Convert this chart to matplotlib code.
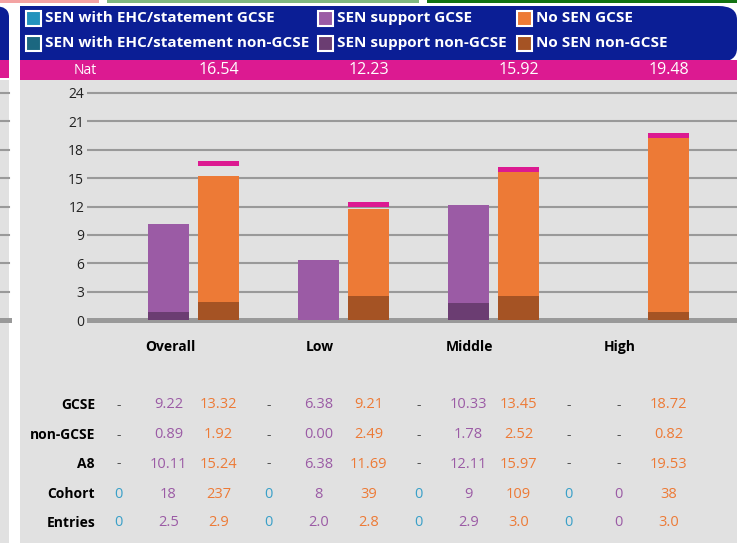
import matplotlib
matplotlib.use("Agg")
import matplotlib.pyplot as plt
from matplotlib.patches import Rectangle, FancyBboxPatch
from matplotlib.lines import Line2D
from matplotlib.transforms import blended_transform_factory
from matplotlib import font_manager

# data
categories = ['Overall', 'Low', 'Middle', 'High']
ehc_gcse = [0, 0, 0, 0]
ehc_non = [0, 0, 0, 0]
sen_gcse = [9.22, 6.38, 10.33, 0]
sen_non = [0.89, 0.00, 1.78, 0]
nosen_gcse = [13.32, 9.21, 13.45, 18.72]
nosen_non = [1.92, 2.49, 2.52, 0.82]
nat = [16.54, 12.23, 15.92, 19.48]

# table rows (None -> "-")
row_labels = ['GCSE', 'non-GCSE', 'A8', 'Cohort', 'Entries']
tab_ehc = [[None] * 4, [None] * 4, [None] * 4, ['0'] * 4, ['0'] * 4]
tab_sen = [['9.22', '6.38', '10.33', None],
           ['0.89', '0.00', '1.78', None],
           ['10.11', '6.38', '12.11', None],
           ['18', '8', '9', '0'],
           ['2.5', '2.0', '2.9', '0']]
tab_nosen = [['13.32', '9.21', '13.45', '18.72'],
             ['1.92', '2.49', '2.52', '0.82'],
             ['15.24', '11.69', '15.97', '19.53'],
             ['237', '39', '109', '38'],
             ['2.9', '2.8', '3.0', '3.0']]

legend_labels = ['SEN with EHC/statement GCSE', 'SEN support GCSE', 'No SEN GCSE',
                 'SEN with EHC/statement non-GCSE', 'SEN support non-GCSE', 'No SEN non-GCSE']

navy = '#0b1e95'
magenta = '#dc1a91'
bg = '#e1e1e1'
gridc = '#999999'
c_ehc, c_ehc2 = '#2393bd', '#1b6780'
c_sen, c_sen2 = '#9b5ba5', '#6b3d72'
c_no, c_no2 = '#ed7a36', '#a55324'
legend_colors = [c_ehc, c_sen, c_no, c_ehc2, c_sen2, c_no2]

names = {f.name for f in font_manager.fontManager.ttflist}
narrow = 'Liberation Sans Narrow' if 'Liberation Sans Narrow' in names else 'Open Sans'
plt.rcParams['font.family'] = ['Open Sans', 'DejaVu Sans']

W, H = 737, 543
fig = plt.figure(figsize=(W / 100, H / 100), dpi=100)
fig.patch.set_facecolor('white')


def rect(x0, y0, x1, y1, color, **kw):
    fig.patches.append(Rectangle((x0 / W, 1 - y1 / H), (x1 - x0) / W, (y1 - y0) / H,
                                 transform=fig.transFigure, facecolor=color,
                                 edgecolor='none', zorder=-5, **kw))


# strips at top from neighbouring tabs
rect(0, 0, 99, 2.5, '#f3a3a3')
rect(107, 0, 419, 2.5, '#80b880')
rect(427, 0, 737, 2.5, '#137313')

# neighbouring panel on the left
rect(0, 80, 9, 543, bg)
fig.patches.append(FancyBboxPatch((-30 / W, 1 - 62 / H), 39 / W, 56 / H,
                                  boxstyle='round,pad=0,rounding_size=0.02',
                                  transform=fig.transFigure, facecolor=navy,
                                  edgecolor='none', zorder=-5))
rect(0, 30, 9, 62, navy)
rect(0, 60, 9, 78, magenta)

# main panel
rect(20, 80, 737, 543, bg)
fig.patches.append(FancyBboxPatch((20 / W, 1 - 62 / H), 717 / W, 56 / H,
                                  boxstyle='round,pad=0,rounding_size=0.025',
                                  transform=fig.transFigure, facecolor=navy,
                                  edgecolor='none', zorder=-5))
rect(20, 6, 400, 62, navy)
rect(20, 60, 737, 80, magenta)

# legend
lx = [26, 318, 517]
ly = [18, 43]
for k, (lab, col) in enumerate(zip(legend_labels, legend_colors)):
    x = lx[k % 3]
    y = ly[k // 3]
    fig.patches.append(Rectangle((x / W, 1 - (y + 8) / H), 15 / W, 15 / H,
                                 transform=fig.transFigure, facecolor=col,
                                 edgecolor='white', linewidth=1.5))
    fig.text((x + 19) / W, 1 - y / H, lab, color='white', fontsize=11,
             fontweight='bold', va='center', ha='left')

# axes: y=0 at 320px, y=24 at 93px ; group centres every 150px from 168.5
ppu = (320 - 93) / 24
ax_top, ax_bot = 85, 330
ax = fig.add_axes([87 / W, 1 - ax_bot / H, 650 / W, (ax_bot - ax_top) / H])
ax.set_zorder(5)
ax.set_ylim(-(ax_bot - 320) / ppu, (320 - ax_top) / ppu)
ax.set_xlim(-(168.5 - 87) / 150, (737 - 168.5) / 150)
ax.patch.set_alpha(0)
for s in ax.spines.values():
    s.set_visible(False)
ax.set_xticks([])
yt = list(range(0, 25, 3))
ax.set_yticks(yt)
ax.tick_params(axis='y', length=0, pad=2, labelsize=10, labelcolor='#222222')
for v in yt:
    ax.axhline(v, color=gridc, lw=3.6 if v == 0 else 1.5, zorder=1)

# left strip grid lines
for v in yt:
    yy = 320 - v * ppu
    fig.lines.append(Line2D([0, 9 / W], [1 - yy / H] * 2, transform=fig.transFigure,
                            color=gridc, lw=3.6 if v == 0 else 1.5))

x = list(range(len(categories)))
bw = 41 / 150
off = 50 / 150
xe = [i - off for i in x]
xs = x
xn = [i + off for i in x]
ax.bar(xe, ehc_non, bw, color=c_ehc2, zorder=2)
ax.bar(xe, ehc_gcse, bw, bottom=ehc_non, color=c_ehc, zorder=2)
ax.bar(xs, sen_non, bw, color=c_sen2, zorder=2)
ax.bar(xs, sen_gcse, bw, bottom=sen_non, color=c_sen, zorder=2)
ax.bar(xn, nosen_non, bw, color=c_no2, zorder=2)
ax.bar(xn, nosen_gcse, bw, bottom=nosen_non, color=c_no, zorder=2)
mh = 0.55
ax.bar(xn, [mh] * 4, bw, bottom=[n - mh / 2 for n in nat], color=magenta, zorder=3)

trans = blended_transform_factory(ax.transData, fig.transFigure)

# Nat band
fig.text(85 / W, 1 - 70 / H, 'Nat', color='white', fontsize=10, ha='center', va='center')
for i, n in enumerate(nat):
    ax.text(xn[i], 1 - 70 / H, f'{n:.2f}', transform=trans, color='white',
            fontsize=11.5, ha='center', va='center', clip_on=False)

# category labels
for i, c in enumerate(categories):
    ax.text(i + 0.01, 1 - 347 / H, c, transform=trans, fontsize=10,
            fontweight='bold', ha='center', va='center', clip_on=False)

# table
row_y = [405, 435, 464, 494, 523]
for r, lab in enumerate(row_labels):
    yy = 1 - row_y[r] / H
    fig.text(95 / W, yy, lab, fontsize=10, fontweight='bold', family=narrow,
             ha='right', va='center')
    for i in range(4):
        for xp, vals, col in [(xe[i], tab_ehc, '#3aa0c8'), (xs[i], tab_sen, c_sen),
                              (xn[i], tab_nosen, c_no)]:
            v = vals[r][i]
            if v is None:
                ax.text(xp, yy, '-', transform=trans, fontsize=10, color='#555555',
                        ha='center', va='center', family=narrow, clip_on=False)
            else:
                ax.text(xp, yy, v, transform=trans, fontsize=10.5, color=col,
                        ha='center', va='center', family=narrow, clip_on=False)

fig.savefig('out.png', dpi=100)
